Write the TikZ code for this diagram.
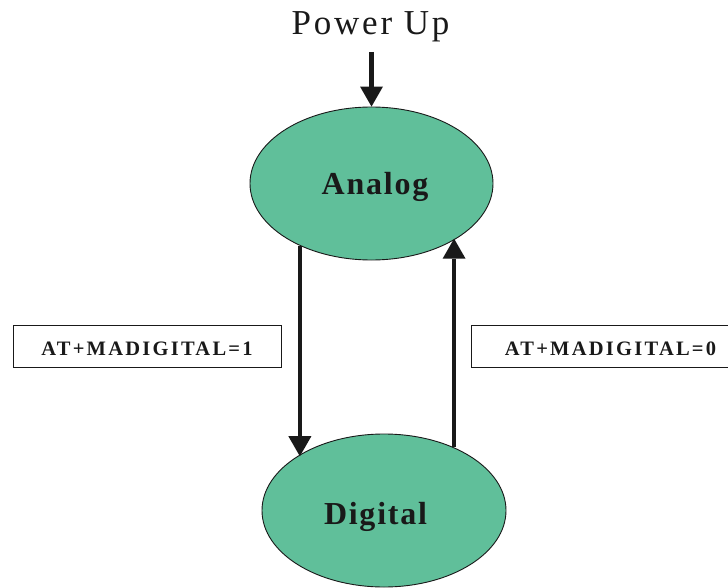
\documentclass[tikz,border=0pt]{standalone}
\usepackage{fontspec}
\setmainfont{Liberation Serif}
\usetikzlibrary{arrows.meta,shapes.geometric}
\definecolor{stategreen}{RGB}{96,191,154}
\definecolor{ink}{RGB}{25,25,25}
\begin{document}
\begin{tikzpicture}[x=1pt,y=-1pt,
  state/.style={ellipse, draw=ink, line width=0.9pt, fill=stategreen,
    minimum width=243pt, minimum height=153pt, inner sep=0pt},
  statetext/.style={anchor=base, inner sep=0pt, text=ink,
    font=\fontsize{32}{36}\selectfont\bfseries\addfontfeature{LetterSpace=5.5}},
  titletext/.style={anchor=base, inner sep=0pt, text=ink,
    font=\fontsize{35}{40}\selectfont\addfontfeature{LetterSpace=8}},
  cmdbox/.style={draw=ink, line width=0.9pt, minimum height=42pt, inner sep=0pt,
    text height=18pt, text depth=0pt, text=ink,
    font=\fontsize{20.5}{24}\selectfont\bfseries\addfontfeature{LetterSpace=11}},
  flow/.style={draw=ink, line width=4.5pt,
    -{Triangle[width=23pt,length=20pt,line width=0pt]}}
]
\useasboundingbox (0,0) rectangle (728,588);
\node[state] (analog) at (371.5,183.5) {};
\node[state, minimum width=244pt] (digital) at (384,510.5) {};
\node[statetext] (analogtxt) at (375,195) {Analog};
\node[statetext] (digitaltxt) at (375.5,524) {Digital};
\node[titletext] (powerup) at (370.5,35) {Power Up};
\coordinate (pustart) at (371.5,52);
\draw[flow] (pustart) -- (analog.north);
\draw[flow] (analog.221) -- (analog.221 |- digital.148);
\draw[flow] (digital.42) -- (digital.42 |- analog.327);
\node[cmdbox, minimum width=268pt] (cmd1) at (147,346) {AT+MADIGITAL=1};
\node[cmdbox, minimum width=279pt] (cmd0) at (610.5,346) {AT+MADIGITAL=0};
\end{tikzpicture}
\end{document}
